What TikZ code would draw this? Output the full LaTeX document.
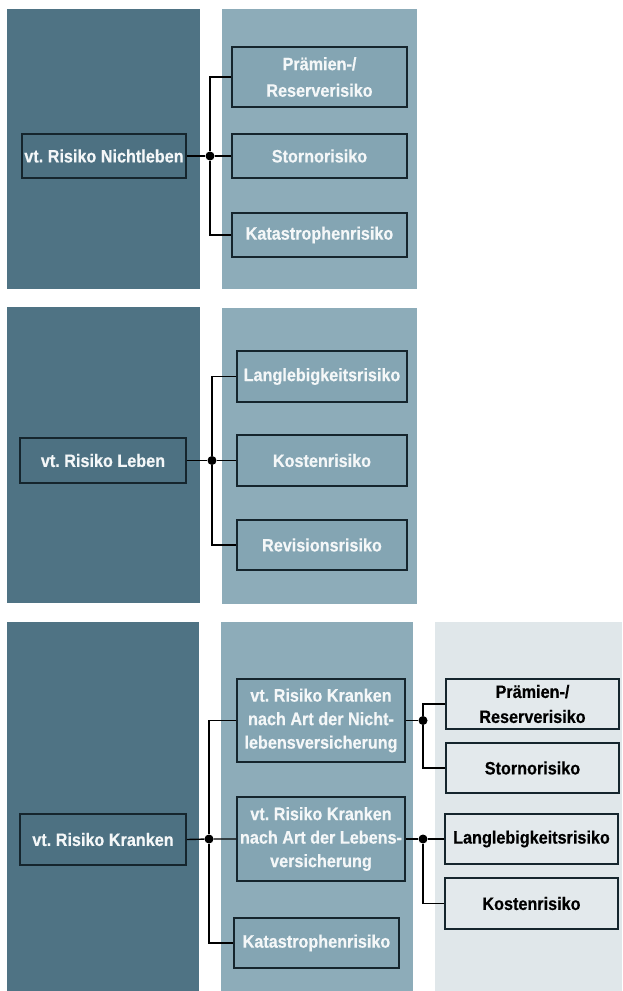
\documentclass[tikz,border=0pt]{standalone}
\usepackage{fontspec}
\setmainfont{Liberation Sans}[FakeStretch=0.9, BoldFeatures={FakeBold=0.4}]
\definecolor{darkcol}{HTML}{4F7384}
\definecolor{midcol}{HTML}{8DACB9}
\definecolor{lightcol}{HTML}{E0E7EA}
\definecolor{darkbox}{HTML}{4D7182}
\definecolor{midbox}{HTML}{84A5B3}
\definecolor{lightbox}{HTML}{E3E9EC}
\definecolor{bordercol}{HTML}{15252D}
\definecolor{txtwhite}{HTML}{F4F7F8}
\frenchspacing
\begin{document}
\begin{tikzpicture}[x=1pt,y=-1pt,
  rbox/.style={draw=bordercol, line width=1.8pt, inner sep=0pt, align=center,
    font=\bfseries\fontsize{18}{23.5}\selectfont},
  dbox/.style={rbox, fill=darkbox, text=txtwhite},
  mbox/.style={rbox, fill=midbox, text=txtwhite},
  lbox/.style={rbox, fill=lightbox, text=black},
  conn/.style={draw=black, line width=1.4pt},
  dot/.style={circle, fill=black, inner sep=0pt, minimum size=9pt}]
\useasboundingbox (0,0) rectangle (622,991);
\fill[white] (0,0) rectangle (622,991);
% ---------- Panel 1 ----------
\fill[darkcol] (7,9) rectangle (200,289);
\fill[midcol] (222,9) rectangle (417,289);
\node[dbox, minimum width=164pt, minimum height=44pt] (a1) at (104,156) {vt. Risiko Nichtleben};
\node[mbox, minimum width=175pt, minimum height=60pt, font=\bfseries\fontsize{18}{26.5}\selectfont] (b11) at (319.5,77) {Prämien-/\\Reserverisiko};
\node[mbox, minimum width=175pt, minimum height=44pt] (b12) at (319.5,156) {Stornorisiko};
\node[mbox, minimum width=175pt, minimum height=44pt] (b13) at (319.5,235) {Katastrophenrisiko};
\node[dot] (j1) at (210,156) {};
\draw[conn] (a1.east) -- (j1) -- (b12.west);
\draw[conn] (b11.west) -| (j1);
\draw[conn] (j1) |- (b13.west);
% ---------- Panel 2 ----------
\fill[darkcol] (7,307) rectangle (200,603);
\fill[midcol] (222,308) rectangle (417,604);
\node[dbox, minimum width=166pt, minimum height=45pt] (a2) at (103,460.5) {vt. Risiko Leben};
\node[mbox, minimum width=170pt, minimum height=51pt] (b21) at (322,376.5) {Langlebigkeitsrisiko};
\node[mbox, minimum width=170pt, minimum height=51pt] (b22) at (322,460.5) {Kostenrisiko};
\node[mbox, minimum width=170pt, minimum height=50pt] (b23) at (322,545) {Revisionsrisiko};
\node[dot] (j2) at (212,460.5) {};
\draw[conn] (a2.east) -- (j2) -- (b22.west);
\draw[conn] (b21.west) -| (j2);
\draw[conn] (j2) |- (b23.west);
% ---------- Panel 3 ----------
\fill[darkcol] (7,622) rectangle (199,991);
\fill[midcol] (221,622) rectangle (413,991);
\fill[lightcol] (435,622) rectangle (622,991);
\node[dbox, minimum width=166pt, minimum height=51pt] (a3) at (103,839.5) {vt. Risiko Kranken};
\node[mbox, minimum width=168pt, minimum height=83pt] (m1) at (321,720.5) {vt. Risiko Kranken\\nach Art der Nicht-\\lebensversicherung};
\node[mbox, minimum width=168pt, minimum height=84pt] (m2) at (321,839) {vt. Risiko Kranken\\nach Art der Lebens-\\versicherung};
\node[mbox, minimum width=165pt, minimum height=50pt] (m3) at (316.5,943) {Katastrophenrisiko};
\node[dot] (j3) at (209,839) {};
\draw[conn] (a3.east) -- (j3) -- (m2.west);
\draw[conn] (m1.west) -| (j3);
\draw[conn] (j3) |- (m3.west);
\node[lbox, minimum width=173pt, minimum height=50pt, font=\bfseries\fontsize{18}{25}\selectfont] (r1) at (532.5,704) {Prämien-/\\Reserverisiko};
\node[lbox, minimum width=173pt, minimum height=50pt] (r2) at (532.5,768) {Stornorisiko};
\node[lbox, minimum width=173pt, minimum height=50pt] (r3) at (531.5,839) {Langlebigkeitsrisiko};
\node[lbox, minimum width=173pt, minimum height=51pt] (r4) at (531.5,903.5) {Kostenrisiko};
\node[dot] (j4) at (423,720.5) {};
\node[dot] (j5) at (423,839) {};
\draw[conn] (m1.east) -- (j4);
\draw[conn] (r1.west) -| (j4);
\draw[conn] (j4) |- (r2.west);
\draw[conn] (m2.east) -- (j5) -- (r3.west);
\draw[conn] (j5) |- (r4.west);
\end{tikzpicture}
\end{document}
